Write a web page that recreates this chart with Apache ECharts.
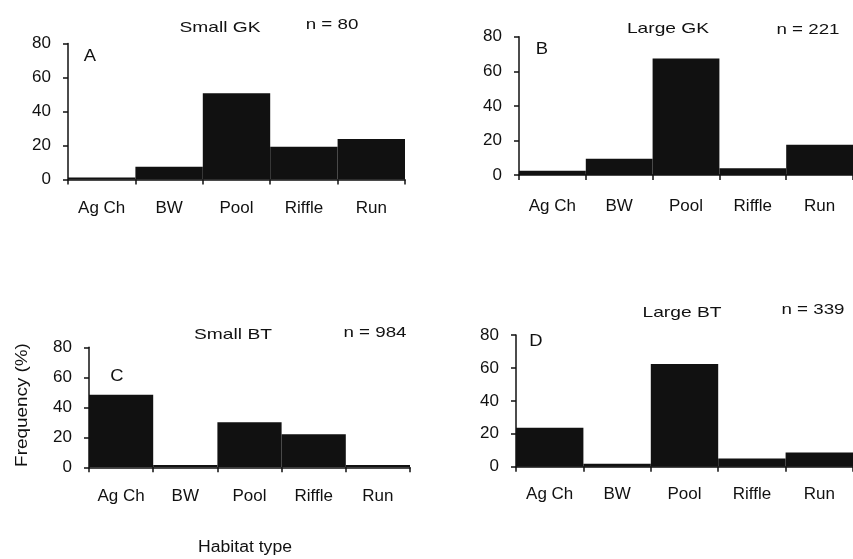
<!DOCTYPE html>
<html><head><meta charset="utf-8">
<script src="https://cdn.jsdelivr.net/npm/echarts@6/dist/echarts.min.js"></script>
<style>html,body{margin:0;padding:0;background:#fff}#c{width:853px;height:559px}</style>
</head><body><div id="c"></div>
<script>
const categories = ['Ag Ch', 'BW', 'Pool', 'Riffle', 'Run'];
const smallGK = [1.2, 7.5, 50.7, 19.3, 23.8];
const largeGK = [2.5, 9.4, 67.4, 3.9, 17.5];
const smallBT = [48.4, 1.5, 30, 22, 1.5];
const largeBT = [23.7, 1.8, 62.4, 5, 8.7];
const yTicks = [0, 20, 40, 60, 80];
const panelTitles = ['Small GK', 'Large GK', 'Small BT', 'Large BT'];
const panelN = ['n = 80', 'n = 221', 'n = 984', 'n = 339'];
const panelLetters = ['A', 'B', 'C', 'D'];
const seriesData = [smallGK, largeGK, smallBT, largeBT];

const FONT = '"Liberation Sans", Arial, sans-serif';
const INK = '#111111';
const grids = [
  {left: 68, top: 43.5, width: 337, height: 136},
  {left: 519, top: 36.7, width: 337, height: 138.3},
  {left: 89, top: 347.3, width: 321, height: 120},
  {left: 516, top: 335, width: 337, height: 131.7}
];
const xMargins = [20, 23, 21, 19];
const xAxes = grids.map((g, i) => ({
  type: 'category', gridIndex: i, data: categories, boundaryGap: true,
  axisLine: {lineStyle: {color: INK, width: 1.5}},
  axisTick: {show: true, length: 5, lineStyle: {color: INK, width: 1.5}},
  axisLabel: {color: INK, fontSize: 17, fontFamily: FONT, margin: xMargins[i]}
}));
const yAxes = grids.map((g, i) => ({
  type: 'value', gridIndex: i, min: yTicks[0], max: yTicks[yTicks.length - 1], interval: 20,
  splitLine: {show: false},
  axisLine: {show: true, lineStyle: {color: INK, width: 1.5}},
  axisTick: {show: true, length: 5, lineStyle: {color: INK, width: 1.5}},
  axisLabel: {color: INK, fontSize: 17, fontFamily: FONT, margin: 17}
}));
const series = seriesData.map((d, i) => ({
  type: 'bar', xAxisIndex: i, yAxisIndex: i, data: d, barCategoryGap: '0%',
  itemStyle: {color: INK}, silent: true
}));
const txt = (x, y, s, size, sx, extra) => Object.assign({
  type: 'text', x: x, y: y, scaleX: sx,
  style: {text: s, fill: INK, font: size + 'px ' + FONT, textAlign: 'center', textVerticalAlign: 'middle'}
}, extra || {});
const titlePos = [[220, 28], [668, 29], [233, 335], [682, 313]];
const nPos = [[332, 25], [808, 30], [375, 333], [813, 310]];
const letterPos = [[90, 57], [542, 50], [117, 377], [536, 342]];
const graphics = [];
for (let i = 0; i < 4; i++) {
  graphics.push(txt(titlePos[i][0], titlePos[i][1], panelTitles[i], 15, 1.28));
  graphics.push(txt(nPos[i][0], nPos[i][1], panelN[i], 15, 1.25));
  graphics.push(txt(letterPos[i][0], letterPos[i][1], panelLetters[i], 16, 1.15));
}
graphics.push({
  type: 'text', x: 23, y: 405, rotation: Math.PI / 2, scaleX: 1.18,
  style: {text: 'Frequency (%)', fill: INK, font: '16px ' + FONT, textAlign: 'center', textVerticalAlign: 'middle'}
});
graphics.push(txt(245, 548, 'Habitat type', 16, 1.1));

const chart = echarts.init(document.getElementById('c'), null, {renderer: 'canvas'});
chart.setOption({
  animation: false,
  backgroundColor: '#fff',
  grid: grids,
  xAxis: xAxes,
  yAxis: yAxes,
  series: series,
  graphic: graphics
});
</script></body></html>
